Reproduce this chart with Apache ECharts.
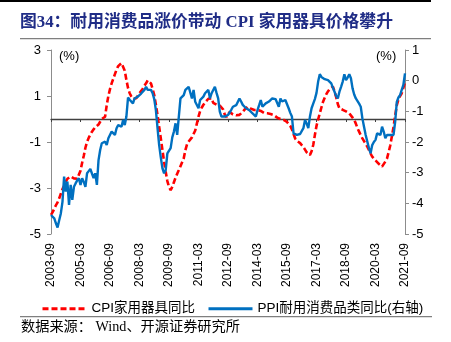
<!DOCTYPE html>
<html>
<head>
<meta charset="utf-8">
<script src="https://cdn.jsdelivr.net/npm/echarts@6/dist/echarts.min.js"></script>
<style>
  html, body { margin: 0; padding: 0; background: #fff; }
  #chart { width: 451px; height: 342px; }
</style>
</head>
<body>
<div id="chart"></div>
<script>
// Monthly categories, 2003-09 through 2021-09
const months = [];
for (let y = 2003, m = 9; y < 2021 || (y === 2021 && m <= 9); m++) {
  if (m > 12) { m = 1; y++; if (y > 2021) break; }
  if (y === 2021 && m > 9) break;
  months.push(y + '-' + String(m).padStart(2, '0'));
}

// CPI household appliances, YoY (%), left axis
const cpiAppliances = [
  -4.17, -4.05, -3.90, -3.75, -3.62, -3.45, -3.25, -3.05, -2.90, -2.72,
  -2.60, -2.52, -2.50, -2.52, -2.58, -2.64, -2.60, -2.52, -2.25, -1.90,
  -1.60, -1.25, -1.00, -0.82, -0.68, -0.55, -0.45, -0.36, -0.30, -0.24,
  -0.12, 0.00, 0.06, 0.10, 0.60, 1.00, 1.30, 1.55, 1.75, 1.95,
  2.15, 2.30, 2.38, 2.43, 2.42, 2.10, 1.70, 1.35, 1.12, 0.98,
  0.88, 0.83, 0.90, 1.02, 1.12, 1.20, 1.32, 1.45, 1.55, 1.68,
  1.72, 1.55, 1.30, 1.04, 0.62, 0.17, -0.35, -0.84, -1.35, -1.86,
  -2.30, -2.70, -2.95, -3.09, -2.95, -2.75, -2.55, -2.38, -2.22, -2.05,
  -1.88, -1.71, -1.35, -1.10, -0.98, -0.92, -0.80, -0.72, -0.50, -0.20,
  0.10, 0.35, 0.50, 0.62, 0.72, 0.80, 0.88, 0.95, 0.90, 0.70,
  0.65, 0.62, 0.62, 0.58, 0.50, 0.42, 0.20, 0.08, 0.20, 0.30,
  0.28, 0.20, 0.17, 0.16, 0.17, 0.18, 0.22, 0.30, 0.40, 0.48,
  0.53, 0.52, 0.45, 0.40, 0.39, 0.40, 0.40, 0.39, 0.35, 0.30,
  0.26, 0.25, 0.25, 0.25, 0.22, 0.19, 0.17, 0.12, 0.06, 0.03,
  0.00, -0.02, -0.04, -0.08, -0.13, -0.18, -0.30, -0.45, -0.65, -0.85,
  -0.95, -1.00, -1.05, -1.12, -1.22, -1.33, -1.45, -1.52, -1.57, -1.40,
  -1.13, -0.70, -0.30, -0.02, 0.25, 0.50, 0.75, 0.92, 1.08, 1.20,
  1.30, 1.36, 1.41, 1.20, 0.95, 0.65, 0.46, 0.42, 0.40, 0.38,
  0.33, 0.28, 0.25, 0.17, 0.06, -0.04, -0.20, -0.40, -0.55, -0.70,
  -0.84, -0.96, -1.08, -1.20, -1.35, -1.50, -1.64, -1.72, -1.80, -1.86,
  -1.95, -2.02, -2.07, -2.00, -1.85, -1.72, -1.45, -1.15, -0.75, -0.35,
  0.15, 0.60, 0.85, 1.00, 1.12, 1.35, 1.60
];

// PPI durable consumer goods, YoY (%), right axis
const ppiDurables = [
  -4.38, -4.42, -4.49, -4.65, -4.79, -4.55, -4.33, -3.95, -3.13, -3.62,
  -3.29, -4.05, -3.40, -3.89, -3.46, -3.35, -3.25, -3.18, -3.40, -3.18,
  -3.30, -3.46, -3.02, -2.95, -2.88, -2.86, -3.18, -3.02, -3.40, -2.59,
  -2.26, -2.04, -2.00, -1.99, -2.10, -1.88, -1.93, -1.66, -1.72, -1.77,
  -1.55, -1.45, -1.48, -1.50, -1.28, -1.45, -1.17, -0.55, -0.62, -0.68,
  -0.74, -0.58, -0.60, -0.52, -0.50, -0.42, -0.36, -0.30, -0.20, -0.30,
  -0.36, -0.30, -0.41, -0.60, -0.96, -1.55, -2.10, -2.50, -2.86, -3.02,
  -2.91, -2.37, -2.32, -2.20, -1.85, -1.66, -1.39, -1.77, -1.17, -0.58,
  -0.52, -0.47, -0.30, -0.25, -0.20, -0.25, -0.58, -0.30, -0.69, -0.74,
  -0.90, -0.63, -0.58, -0.52, -0.41, -0.35, -0.30, -0.58, -0.41, -0.47,
  -0.20, -0.40, -0.58, -1.01, -1.17, -1.17, -1.17, -1.17, -1.12, -1.07,
  -0.95, -0.85, -0.90, -0.80, -0.74, -0.58, -0.68, -0.79, -0.85, -0.90,
  -0.93, -0.96, -1.02, -1.07, -1.12, -1.17, -0.96, -0.80, -0.63, -0.85,
  -0.80, -0.74, -0.70, -0.68, -0.62, -0.58, -0.63, -0.60, -0.58, -0.85,
  -0.58, -0.68, -0.74, -0.63, -0.58, -0.90, -1.05, -1.17, -1.72, -1.77,
  -1.77, -1.75, -1.74, -1.72, -1.55, -1.28, -1.40, -1.55, -1.17, -0.90,
  -0.75, -0.60, -0.40, -0.03, 0.21, 0.12, 0.08, 0.05, 0.02, 0.02,
  0.02, -0.09, -0.12, -0.36, -0.50, -0.58, -0.36, -0.20, -0.03, 0.21,
  0.02, 0.10, 0.21, 0.08, -0.25, -0.45, -0.58, -0.63, -0.75, -0.85,
  -1.23, -1.50, -1.77, -1.83, -2.20, -2.37, -2.10, -2.00, -1.93, -1.72,
  -1.72, -1.77, -1.50, -1.66, -1.88, -1.77, -1.77, -1.77, -1.77, -1.77,
  -1.34, -0.69, -0.55, -0.47, -0.30, -0.14, 0.24
];

const seriesNames = ['CPI家用器具同比', 'PPI耐用消费品类同比(右轴)'];
const titleText = '图34：耐用消费品涨价带动 CPI 家用器具价格攀升';
const sourceText = '数据来源： Wind、开源证券研究所';

const SANS = 'Liberation Sans, Arial, Noto Sans CJK SC, sans-serif';
const SERIF = 'Liberation Serif, Times New Roman, Noto Sans CJK SC, serif';

const chart = echarts.init(document.getElementById('chart'), null, { renderer: 'canvas' });

chart.setOption({
  animation: false,
  backgroundColor: '#fff',
  grid: { left: 51, right: 46, top: 50, bottom: 108, containLabel: false },
  legend: {
    data: seriesNames,
    left: 36,
    top: 297,
    itemWidth: 44,
    itemHeight: 12,
    itemGap: 12,
    itemStyle: { opacity: 0 },
    lineStyle: { width: 3 },
    textStyle: { fontSize: 13.5, color: '#000', fontFamily: SANS }
  },
  xAxis: [
    {
      // date labels along the bottom
      type: 'category',
      data: months,
      boundaryGap: false,
      position: 'bottom',
      axisLine: { show: false, onZero: false },
      axisTick: { show: false },
      axisLabel: {
        interval: 17,
        rotate: 90,
        margin: 9,
        fontSize: 12,
        color: '#000',
        fontFamily: SANS
      },
      splitLine: { show: false }
    },
    {
      // zero line of the left axis, with tick marks
      type: 'category',
      data: months,
      boundaryGap: false,
      position: 'bottom',
      axisLine: { show: true, onZero: true, onZeroAxisIndex: 0, lineStyle: { color: '#404040', width: 1.3 } },
      axisTick: { show: true, interval: 17, length: 3, lineStyle: { color: '#404040', width: 1 } },
      axisLabel: { show: false },
      splitLine: { show: false }
    }
  ],
  yAxis: [
    {
      type: 'value',
      min: -5,
      max: 3,
      interval: 2,
      position: 'left',
      axisLine: { show: true, lineStyle: { color: '#8c8c8c', width: 1 } },
      axisTick: { show: true, length: 4, lineStyle: { color: '#8c8c8c' } },
      axisLabel: { fontSize: 13, color: '#000', margin: 10, fontFamily: SANS },
      splitLine: { show: false }
    },
    {
      type: 'value',
      min: -5,
      max: 1,
      interval: 1,
      position: 'right',
      axisLine: { show: true, lineStyle: { color: '#8c8c8c', width: 1 } },
      axisTick: { show: true, length: 4, lineStyle: { color: '#8c8c8c' } },
      axisLabel: { fontSize: 13, color: '#000', margin: 7, fontFamily: SANS },
      splitLine: { show: false }
    }
  ],
  series: [
    {
      name: seriesNames[0],
      type: 'line',
      xAxisIndex: 0,
      yAxisIndex: 0,
      data: cpiAppliances,
      symbol: 'none',
      lineStyle: { color: '#ff0000', width: 2.6, type: [6, 3] },
      itemStyle: { color: '#ff0000' },
      z: 2
    },
    {
      name: seriesNames[1],
      type: 'line',
      xAxisIndex: 0,
      yAxisIndex: 1,
      data: ppiDurables,
      symbol: 'none',
      lineStyle: { color: '#0070c0', width: 2.4 },
      itemStyle: { color: '#0070c0' },
      z: 3
    }
  ],
  graphic: [
    { type: 'rect', shape: { x: 0, y: 0, width: 431, height: 2 }, style: { fill: '#000' } },
    {
      type: 'text', left: 20, top: 14,
      style: { text: titleText, fill: '#1f2c86', font: 'bold 16.8px ' + SERIF }
    },
    { type: 'rect', shape: { x: 20, y: 38, width: 411, height: 1.2 }, style: { fill: '#7f7f7f' } },
    {
      type: 'text', left: 59, top: 50,
      style: { text: '(%)', fill: '#000', font: '13px ' + SANS }
    },
    {
      type: 'text', left: 376, top: 50,
      style: { text: '(%)', fill: '#000', font: '13px ' + SANS }
    },
    { type: 'rect', shape: { x: 20, y: 316, width: 412, height: 1.2 }, style: { fill: '#7f7f7f' } },
    {
      type: 'text', left: 21, top: 320,
      style: { text: sourceText, fill: '#000', font: '14.2px ' + SERIF }
    }
  ]
});
</script>
</body>
</html>
